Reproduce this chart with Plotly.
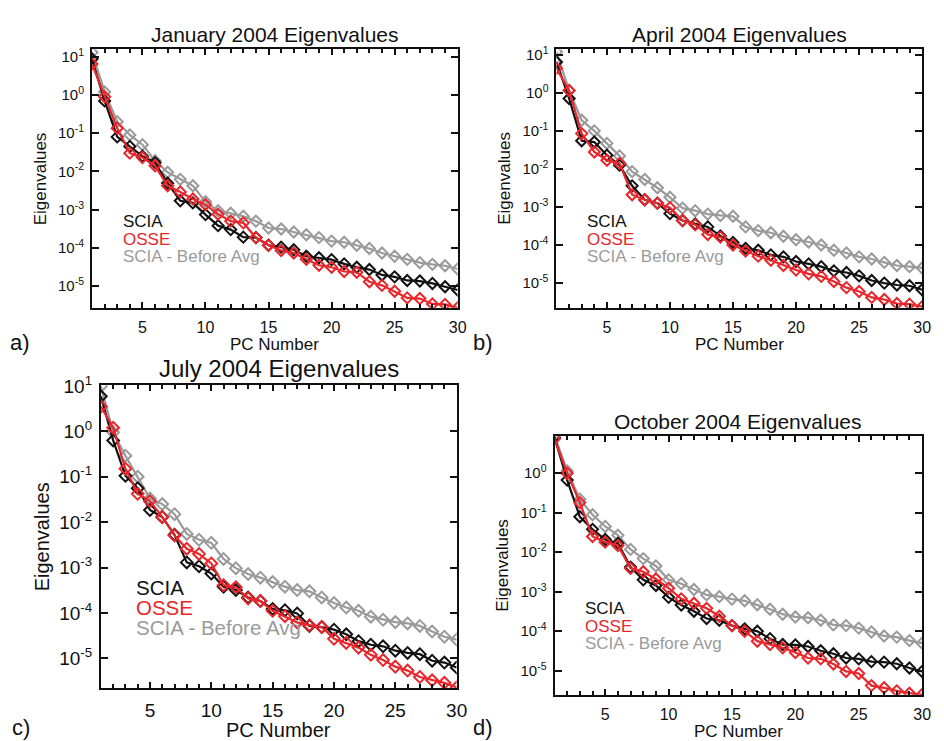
import plotly.graph_objects as go

# window is 944x741; the page body has an 8px margin, so the figure is 936x733 placed at (8, 8)
OFF = 8
W, H = 944 - OFF, 741 - OFF
pc = list(range(1, 31))

# Panel a: January 2004
jan_scia = [8.7, 0.7, 0.08, 0.045, 0.025, 0.017, 0.0049, 0.0017, 0.0015, 0.00074,
            0.00038, 0.0003, 0.00019, 0.000185, 1.17e-4, 1.04e-4, 8.9e-5, 6e-5, 5.5e-5, 4.9e-5,
            3.8e-5, 3.1e-5, 2.7e-5, 1.95e-5, 1.74e-5, 1.4e-5, 1.35e-5, 1.17e-5, 9.6e-6, 7.9e-6]
jan_osse = [6.5, 0.9, 0.135, 0.03, 0.023, 0.014, 0.0042, 0.0029, 0.0019, 0.00135,
            0.00076, 0.0005, 0.00045, 0.000185, 1.17e-4, 8.5e-5, 7.3e-5, 5e-5, 3.5e-5, 3.1e-5,
            2.4e-5, 2.3e-5, 1.3e-5, 1.04e-5, 7.3e-6, 4.9e-6, 4.7e-6, 3.4e-6, 3.3e-6, 2.7e-6]
jan_before = [13.0, 1.2, 0.2, 0.09, 0.05, 0.019, 0.0095, 0.0062, 0.0042, 0.0016,
              0.00093, 0.0008, 0.00067, 0.0005, 3.3e-4, 3.1e-4, 2.6e-4, 2.2e-4, 1.85e-4, 1.5e-4,
              1.4e-4, 1.17e-4, 9.6e-5, 7.3e-5, 6e-5, 5e-5, 4.1e-5, 3.7e-5, 3.4e-5, 2.8e-5]

# Panel b: April 2004
apr_scia = [6.5, 0.71, 0.055, 0.051, 0.023, 0.0126, 0.0036, 0.00155, 0.00126, 0.00067,
            0.00044, 0.00036, 0.0003, 0.000174, 1.17e-4, 8.2e-5, 7.3e-5, 5.5e-5, 4.9e-5, 3.7e-5,
            3.2e-5, 2.7e-5, 2.1e-5, 1.9e-5, 1.55e-5, 1.17e-5, 1e-5, 8.9e-6, 8.5e-6, 6.7e-6]
apr_osse = [4.4, 1.15, 0.085, 0.028, 0.017, 0.014, 0.0021, 0.00155, 0.00126, 0.00096,
            0.00044, 0.00034, 0.00019, 0.000162, 1e-4, 7e-5, 5.1e-5, 4e-5, 2.9e-5, 2.2e-5,
            1.75e-5, 1.5e-5, 1.1e-5, 7.6e-6, 6e-6, 4.2e-6, 3.7e-6, 2.9e-6, 2.8e-6, 2.4e-6]
apr_before = [12.0, 1.15, 0.19, 0.1, 0.047, 0.022, 0.0085, 0.0053, 0.0032, 0.0018,
              0.00093, 0.0008, 0.00065, 0.0006, 0.00057, 0.0003, 0.00024, 0.00021, 0.00017, 0.000138,
              0.00012, 1e-4, 7.3e-5, 6.2e-5, 4.9e-5, 4.3e-5, 3.5e-5, 2.9e-5, 2.7e-5, 2.5e-5]

# Panel c: July 2004
jul_scia = [5.9, 0.63, 0.105, 0.056, 0.0185, 0.013, 0.0053, 0.0013, 0.00107, 0.00074,
            0.00038, 0.00032, 0.00022, 0.000183, 0.000123, 0.000115, 9.8e-5, 5.2e-5, 4.9e-5, 4.3e-5,
            3.4e-5, 2.4e-5, 2e-5, 1.85e-5, 1.48e-5, 1.32e-5, 1.24e-5, 8.9e-6, 8.1e-6, 6.3e-6]
jul_osse = [3.5, 1.2, 0.15, 0.042, 0.029, 0.013, 0.0051, 0.0026, 0.002, 0.00123,
            0.00041, 0.00037, 0.00021, 0.000183, 0.000112, 8.5e-5, 6.2e-5, 5.4e-5, 4.9e-5, 2.7e-5,
            2.2e-5, 1.73e-5, 1.2e-5, 9.2e-6, 6.6e-6, 5.4e-6, 3.9e-6, 3.3e-6, 2.9e-6, 2.3e-6]
jul_before = [9.8, 0.95, 0.29, 0.1, 0.033, 0.025, 0.015, 0.0055, 0.0041, 0.0035,
              0.00155, 0.00097, 0.00072, 0.0006, 0.00048, 0.00038, 0.00032, 0.0003, 0.00022, 0.000166,
              0.000132, 0.000112, 8.3e-5, 7.1e-5, 6.3e-5, 5.9e-5, 5.2e-5, 3.9e-5, 3.0e-5, 2.6e-5]

# Panel d: October 2004
oct_scia = [8.2, 0.67, 0.079, 0.038, 0.021, 0.017, 0.0042, 0.002, 0.00144, 0.00072,
            0.00046, 0.00032, 0.00021, 0.00019, 0.000139, 0.000115, 1e-4, 6.5e-5, 4.6e-5, 4.5e-5,
            4.1e-5, 3.2e-5, 2.7e-5, 2.1e-5, 2e-5, 1.7e-5, 1.65e-5, 1.5e-5, 1.17e-5, 9.6e-6]
oct_osse = [7.4, 1.0, 0.18, 0.025, 0.018, 0.0148, 0.0039, 0.0032, 0.0021, 0.00123,
            0.00066, 0.00051, 0.00038, 0.00024, 0.000139, 1e-4, 5.6e-5, 4.6e-5, 3.8e-5, 2.9e-5,
            2.1e-5, 2e-5, 1.48e-5, 9.6e-6, 8.5e-6, 4.2e-6, 3.7e-6, 3.1e-6, 2.7e-6, 2.5e-6]
oct_before = [9.0, 1.14, 0.22, 0.089, 0.045, 0.027, 0.0118, 0.0069, 0.0045, 0.002,
              0.0016, 0.00114, 0.00083, 0.00075, 0.00065, 0.00059, 0.00047, 0.00036, 0.00027, 0.00023,
              0.00022, 0.00019, 0.000145, 0.000139, 0.00012, 9.6e-5, 7.6e-5, 7.1e-5, 5.8e-5, 5e-5]

titles = ["January 2004 Eigenvalues", "April 2004 Eigenvalues",
          "July 2004 Eigenvalues", "October 2004 Eigenvalues"]
panel_letters = ["a)", "b)", "c)", "d)"]
series_names = ["SCIA", "OSSE", "SCIA - Before Avg"]
decades = [-5, -4, -3, -2, -1, 0, 1]
tick_text = ["10<sup>%d</sup>" % d for d in decades]

FONT = "Liberation Sans, Arial, Helvetica, sans-serif"
BLACK = "#111111"
RED = "#e8262b"
GREY = "#9a9a9a"

data = [
    (jan_scia, jan_osse, jan_before),
    (apr_scia, apr_osse, apr_before),
    (jul_scia, jul_osse, jul_before),
    (oct_scia, oct_osse, oct_before),
]

# plot boxes in window pixels: (left, top, right, bottom)
boxes = [(93, 37, 463, 300), (563, 37, 933, 300), (102, 379, 462, 687), (561, 431, 933, 694)]
yranges = [(-5.57, 1.19), (-5.65, 1.14), (-5.65, 1.01), (-5.61, 0.93)]
big = [False, False, True, False]


def px(x, y):
    return (x - OFF) / W, 1 - (y - OFF) / H


fig = go.Figure()
annotations = []
for i in range(4):
    l, t, r, b = boxes[i]
    xa = "x" if i == 0 else "x%d" % (i + 1)
    ya = "y" if i == 0 else "y%d" % (i + 1)
    scia, osse, before = data[i]
    ms = 8.5 if not big[i] else 9
    for vals, col in [(before, GREY), (scia, BLACK), (osse, RED)]:
        fig.add_trace(go.Scatter(
            x=pc, y=vals, mode="lines+markers", xaxis=xa, yaxis=ya,
            line=dict(color=col, width=2.2),
            marker=dict(symbol="diamond-open", size=ms, color=col, line=dict(color=col, width=2)),
            showlegend=False))
    tf = 16 if not big[i] else 19
    ax_common = dict(showline=True, linecolor=BLACK, linewidth=2, mirror="ticks",
                     ticks="inside", tickcolor=BLACK, tickwidth=1.5, showgrid=False, zeroline=False,
                     tickfont=dict(family=FONT, size=tf, color=BLACK))
    xl, yt = px(l, t)
    xr, yb = px(r, b)
    fig.layout["xaxis" if i == 0 else "xaxis%d" % (i + 1)] = dict(
        ax_common, domain=[xl, xr], anchor=ya, range=[1, 30], tick0=0, dtick=5,
        ticklen=6, minor=dict(dtick=1, ticks="inside", ticklen=4, tickcolor=BLACK, tickwidth=1.5),
        ticklabelstandoff=4)
    fig.layout["yaxis" if i == 0 else "yaxis%d" % (i + 1)] = dict(
        ax_common, domain=[yb, yt], anchor=xa, type="log",
        range=list(yranges[i]), tickvals=[10.0 ** d for d in decades], ticktext=tick_text,
        ticklen=7, tickfont=dict(family=FONT, size=(15 if not big[i] else 19), color=BLACK),
        ticklabelstandoff=3)

    cx = (l + r) / 2
    # title
    tsize = 21 if not big[i] else 24
    ty = t - 15 if not big[i] else t - 17
    x0, y0 = px(cx, ty)
    annotations.append(dict(text=titles[i], x=x0, y=y0, xref="paper", yref="paper",
                            showarrow=False, xanchor="center", yanchor="middle",
                            font=dict(family=FONT, size=tsize, color=BLACK)))
    # x title
    xs = 17 if not big[i] else 20
    x0, y0 = px(cx, b + 37 if not big[i] else b + 43)
    annotations.append(dict(text="PC Number", x=x0, y=y0, xref="paper", yref="paper",
                            showarrow=False, xanchor="center", yanchor="middle",
                            font=dict(family=FONT, size=xs, color=BLACK)))
    # y title
    x0, y0 = px(l - 52 if not big[i] else l - 60, (t + b) / 2)
    annotations.append(dict(text="Eigenvalues", x=x0, y=y0, xref="paper", yref="paper",
                            showarrow=False, xanchor="center", yanchor="middle", textangle=-90,
                            font=dict(family=FONT, size=xs, color=BLACK)))
    # legend text
    lx = l + 29 if not big[i] else l + 34
    ly0 = {0: 212, 1: 212, 2: 585, 3: 606}[i]
    dy = 18 if not big[i] else 20
    ls = 17 if not big[i] else 20.5
    for k, (name, col) in enumerate(zip(series_names, [BLACK, RED, GREY])):
        x0, y0 = px(lx, ly0 + k * dy)
        annotations.append(dict(text=name, x=x0, y=y0, xref="paper", yref="paper",
                                showarrow=False, xanchor="left", yanchor="middle",
                                font=dict(family=FONT, size=ls, color=col)))

# panel letters
for letter, (lx, ly) in zip(panel_letters, [(8, 335), (476, 335), (10, 727), (476, 727)]):
    x0, y0 = px(lx, ly)
    annotations.append(dict(text=letter, x=x0, y=y0, xref="paper", yref="paper",
                            showarrow=False, xanchor="left", yanchor="middle",
                            font=dict(family=FONT, size=22, color=BLACK)))

fig.update_layout(width=W, height=H, margin=dict(l=0, r=0, t=0, b=0),
                  paper_bgcolor="white", plot_bgcolor="white", annotations=annotations,
                  font=dict(family=FONT, color=BLACK))
fig.write_html("out.html")
